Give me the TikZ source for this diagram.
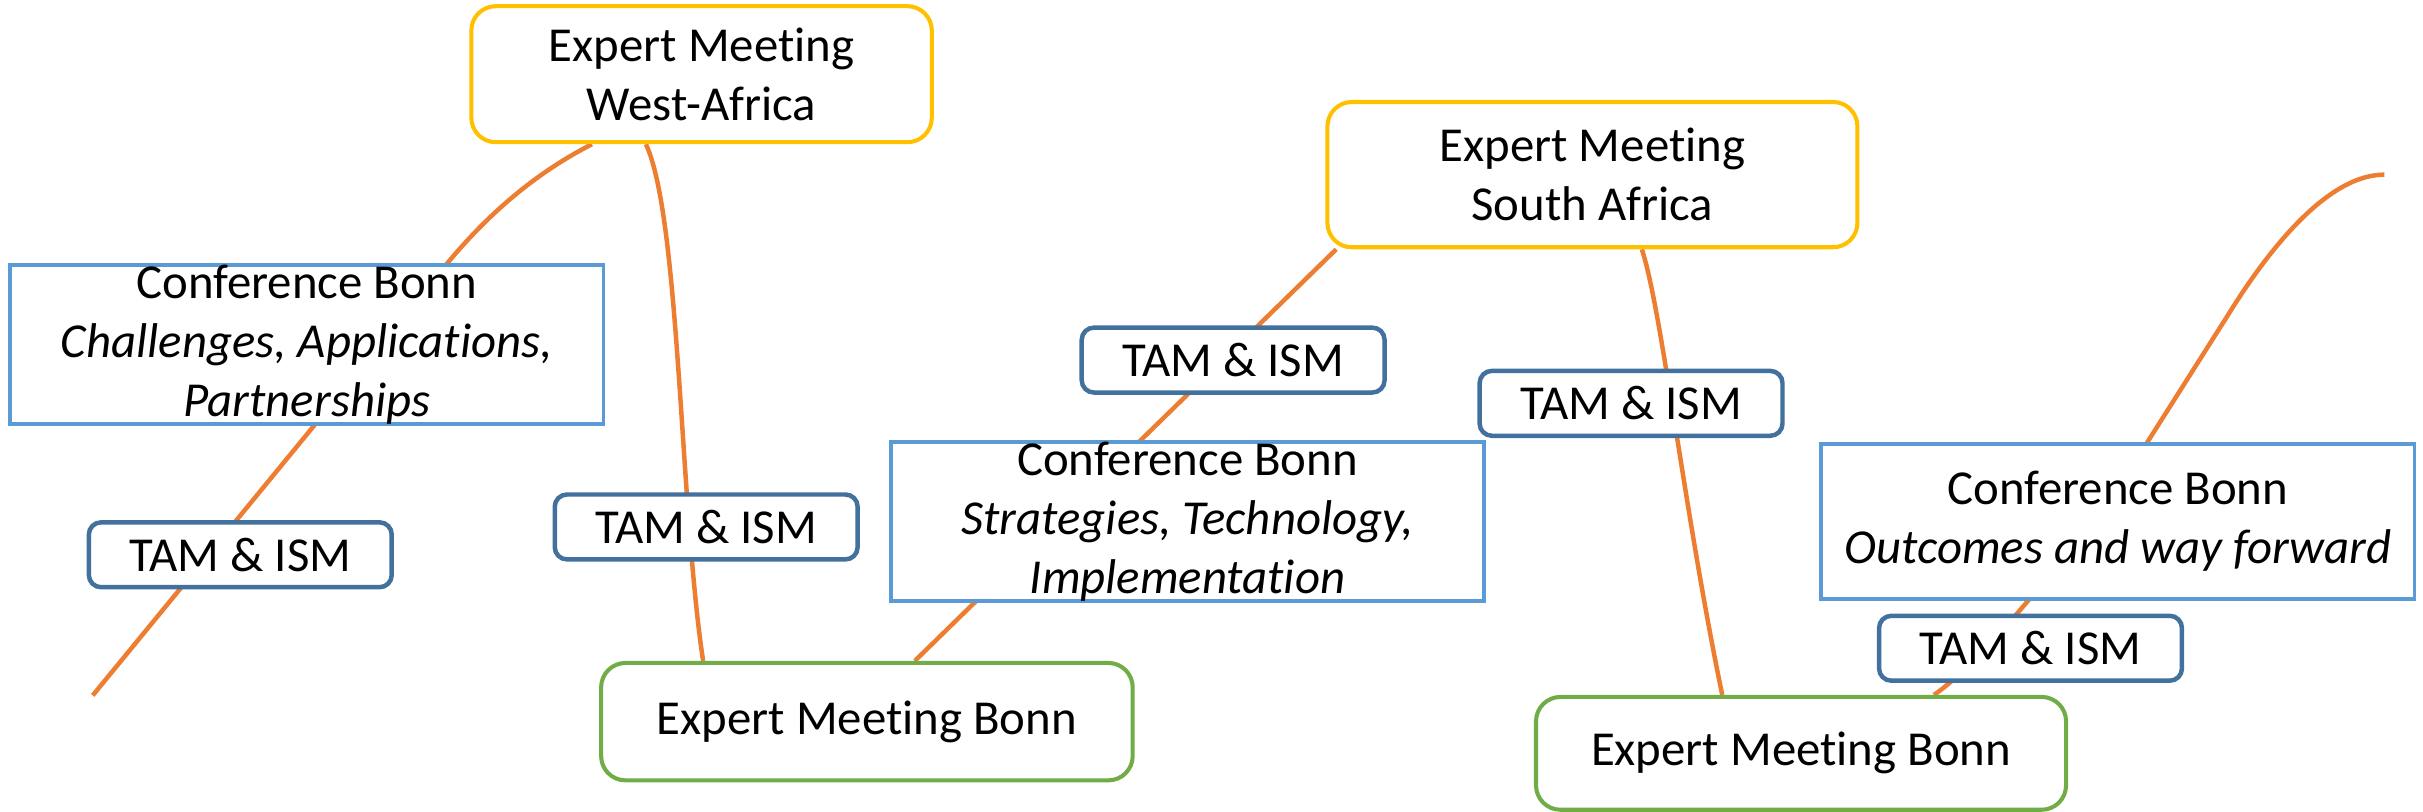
\documentclass[tikz,border=0pt]{standalone}
\usepackage{fontspec}
\setmainfont{Carlito}[Ligatures=NoCommon]
\usepackage{tikz}
\usetikzlibrary{calc}
\definecolor{gold}{HTML}{FFC000}
\definecolor{leaf}{HTML}{70AD47}
\definecolor{sky}{HTML}{5B9BD5}
\definecolor{navy}{HTML}{41719C}
\definecolor{rust}{HTML}{ED7D31}
\pgfdeclarelayer{back}
\pgfsetlayers{back,main}
\tikzset{
  sz/.style 2 args={minimum width=#1*0.38pt, minimum height=#2*0.38pt},
  meet/.style={draw=#1, line width=1pt, rounded corners=6pt, fill=white, align=center, inner sep=0pt},
  conf/.style={draw=sky, line width=0.9pt, fill=white, align=center, inner sep=0pt, sz={384}{100}},
  tam/.style={draw=navy, line width=1.1pt, rounded corners=3pt, fill=white, inner sep=0pt, sz={196}{42}},
  link/.style={draw=rust, line width=1.1pt}
}

\begin{document}
\begin{tikzpicture}[x=0.38pt, y=-0.38pt, font=\fontsize{12}{14.5}\selectfont]
\useasboundingbox (0,0) rectangle (1568,525);
\node[meet=gold, sz={298}{88}] (wa) at (454,48) {Expert Meeting\\West-Africa};
\node[conf] (c1) at (198.5,223) {Conference Bonn\\\textit{Challenges, Applications,}\\\textit{Partnerships}};
\node[tam] (t1) at (155.5,359) {TAM \& ISM};
\node[tam] (t2) at (457,341) {TAM \& ISM};
\node[meet=leaf, sz={344}{76}] (b1) at (561,467) {Expert Meeting Bonn};
\node[conf] (c2) at (768.5,337.5) {Conference Bonn\\\textit{Strategies, Technology,}\\\textit{Implementation}};
\node[tam] (t3) at (798,233) {TAM \& ISM};
\node[meet=gold, sz={343}{94}] (sa) at (1030.5,113) {Expert Meeting\\South Africa};
\node[tam] (t4) at (1055.5,261) {TAM \& ISM};
\node[meet=leaf, sz={343}{73}] (b2) at (1165.5,487.5) {Expert Meeting Bonn};
\node[conf] (c3) at (1370.5,337.5) {Conference Bonn\\\textit{Outcomes and way forward}};
\node[tam] (t5) at (1314,419.5) {TAM \& ISM};
\coordinate (w0) at (60,450);
\coordinate (e0) at (1543,113);
\begin{pgfonlayer}{back}
\draw[link] (w0) -- ($(c1.north)+(91,0)$) .. controls +(30,-36) and +(-33,17) .. ($(wa.south)+(-71,0)$);
\draw[link] ($(wa.south)+(-36,0)$) .. controls +(22,47) and +(-15,-99) .. ($(b1.north)+(-106,0)$);
\draw[link] ($(b1.north)+(31,0)$) -- ($(sa.south west)+(7,0)$);
\draw[link] ($(sa.south)+(32,0)$) .. controls +(13,40) and +(-25,-121) .. ($(b2.north)+(-51,0)$);
\draw[link] ($(b2.north)+(86,0)$) .. controls +(38,-26) and +(-27,42) .. ($(c3.north)+(19,0)$) -- ++(52,-82) .. controls +(21,-34) and +(-40,0) .. (e0);
\end{pgfonlayer}
\end{tikzpicture}
\end{document}
